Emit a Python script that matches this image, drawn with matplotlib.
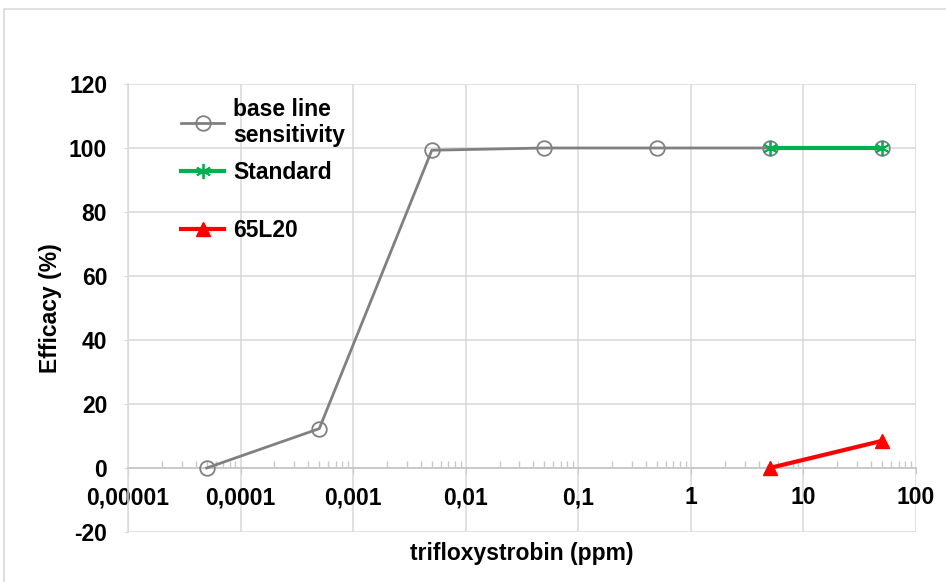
import matplotlib.pyplot as plt
from matplotlib.patches import Rectangle
from matplotlib.ticker import FixedLocator, LogLocator, NullFormatter

plt.rcParams['font.family'] = ['Liberation Sans', 'DejaVu Sans']
plt.rcParams['font.weight'] = 'bold'
plt.rcParams['axes.unicode_minus'] = False

# dati
conc_base = [0.00005, 0.0005, 0.005, 0.05, 0.5, 5, 50]
eff_base = [0, 12.3, 99.3, 100, 100, 100, 100]
conc_std = [5, 50]
eff_std = [100, 100]
conc_65 = [5, 50]
eff_65 = [0, 8.5]

xticks = [0.00001, 0.0001, 0.001, 0.01, 0.1, 1, 10, 100]
xlabels = ['0,00001', '0,0001', '0,001', '0,01', '0,1', '1', '10', '100']
yticks = [-20, 0, 20, 40, 60, 80, 100, 120]
fs = 16.5

fig = plt.figure(figsize=(9.46, 5.82), dpi=100)
# bordo grigio dell'area grafico
fig.patches.append(Rectangle((4 / 946, -0.1), 1.1, 1 - 9 / 582 + 0.1,
                             transform=fig.transFigure, fill=False,
                             edgecolor='#d9d9d9', linewidth=1.2))
ax = fig.add_axes([0.1353, 0.0859, 0.9683 - 0.1353, 0.8557 - 0.0859])

l1, = ax.plot(conc_base, eff_base, color='#808080', linewidth=2, marker='o',
              markersize=10.5, markerfacecolor='none', markeredgecolor='#808080',
              markeredgewidth=1.3, label='base line\nsensitivity', zorder=3)
l2, = ax.plot(conc_std, eff_std, color='#00b050', linewidth=3, marker=(6, 2, 0),
              markersize=11, markeredgecolor='#00b050', markeredgewidth=1.3,
              label='Standard', zorder=4)
l3, = ax.plot(conc_65, eff_65, color='#ff0000', linewidth=3, marker='^',
              markersize=10, markeredgecolor='#ff0000', label='65L20', zorder=4,
              clip_on=False)

ax.set_xscale('log')
ax.set_xlim(0.00001, 100)
ax.set_ylim(-20, 120)
ax.xaxis.set_major_locator(FixedLocator(xticks))
ax.set_xticklabels(xlabels)
ax.xaxis.set_minor_locator(LogLocator(base=10, subs=range(2, 10), numticks=20))
ax.xaxis.set_minor_formatter(NullFormatter())
ax.set_yticks(yticks)

ax.grid(True, which='major', color='#d9d9d9', linewidth=1.1)
ax.set_axisbelow(True)
for s in ['top', 'right']:
    ax.spines[s].set_visible(False)
ax.spines['left'].set_color('#d9d9d9')
ax.spines['left'].set_linewidth(1.1)
ax.spines['bottom'].set_position(('data', 0))
ax.spines['bottom'].set_color('#c8c8c8')
ax.spines['bottom'].set_linewidth(1.3)

ax.tick_params(axis='x', which='major', direction='out', length=4,
               color='#c8c8c8', labelsize=fs, pad=9)
ax.tick_params(axis='x', which='minor', direction='in', length=5,
               color='#c8c8c8', width=1)
ax.tick_params(axis='y', length=3, color='#d9d9d9', labelsize=fs, pad=12)

ax.set_xlabel('trifloxystrobin (ppm)', fontsize=fs, fontweight='bold')
ax.xaxis.set_label_coords(0.5, -0.022)
ax.set_ylabel('Efficacy (%)', fontsize=fs, fontweight='bold')
ax.yaxis.set_label_coords(-0.084, 0.5)

leg1 = ax.legend(handles=[l1, l2], loc='center left',
                 bbox_to_anchor=(0.067, 0.873), frameon=False, fontsize=fs,
                 handlelength=1.9, handletextpad=0.4, labelspacing=0.6,
                 borderpad=0, borderaxespad=0)
ax.add_artist(leg1)
ax.legend(handles=[l3], loc='center left', bbox_to_anchor=(0.067, 0.672),
          frameon=False, fontsize=fs, handlelength=1.9, handletextpad=0.4,
          borderpad=0, borderaxespad=0)

fig.savefig('out.png', dpi=100)
